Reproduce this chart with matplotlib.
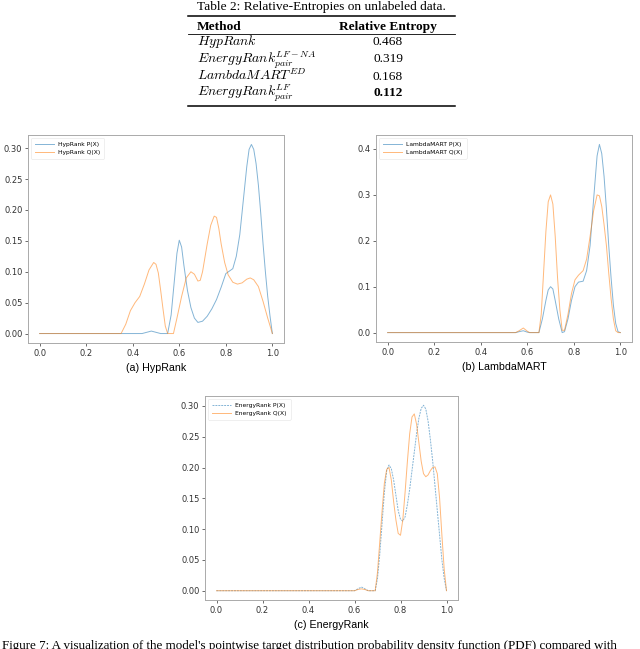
import matplotlib
matplotlib.use("Agg")
import matplotlib.pyplot as plt
from matplotlib.lines import Line2D

plt.rcParams["mathtext.fontset"] = "cm"

W, H = 640, 649

# table data
methods = [r"$HypRank$", r"$EnergyRank_{pair}^{LF-NA}$", r"$LambdaMART^{ED}$", r"$EnergyRank_{pair}^{LF}$"]
entropies = ["0.468", "0.319", "0.168", "0.112"]
best_row = 3

# (a) HypRank
hyp_p_x = [0.0, 0.44, 0.46, 0.48, 0.50, 0.52, 0.55, 0.565, 0.58, 0.59, 0.60, 0.61, 0.62, 0.635, 0.65, 0.665,
           0.68, 0.70, 0.72, 0.74, 0.76, 0.78, 0.80, 0.815, 0.83, 0.845, 0.86, 0.875, 0.89, 0.90, 0.91, 0.92,
           0.93, 0.94, 0.95, 0.96, 0.97, 0.98, 0.99, 1.00]
hyp_p_y = [0.0, 0.0, 0.002, 0.004, 0.002, 0.0, 0.0, 0.03, 0.09, 0.13, 0.151, 0.14, 0.11, 0.07, 0.042, 0.025,
           0.018, 0.02, 0.028, 0.04, 0.055, 0.075, 0.097, 0.101, 0.105, 0.125, 0.16, 0.215, 0.27, 0.298, 0.306, 0.298,
           0.275, 0.24, 0.195, 0.145, 0.10, 0.06, 0.028, 0.0]
hyp_q_x = [0.0, 0.35, 0.37, 0.39, 0.41, 0.43, 0.45, 0.47, 0.49, 0.50, 0.51, 0.52, 0.53, 0.54, 0.55, 0.575,
           0.59, 0.61, 0.63, 0.65, 0.665, 0.68, 0.69, 0.70, 0.72, 0.735, 0.75, 0.76, 0.77, 0.78, 0.795, 0.81,
           0.83, 0.85, 0.87, 0.89, 0.905, 0.92, 0.94, 0.96, 0.98, 1.00]
hyp_q_y = [0.0, 0.0, 0.015, 0.037, 0.05, 0.06, 0.08, 0.103, 0.115, 0.112, 0.098, 0.07, 0.04, 0.012, 0.0, 0.0,
           0.025, 0.06, 0.09, 0.100, 0.096, 0.085, 0.086, 0.10, 0.145, 0.175, 0.19, 0.188, 0.17, 0.145, 0.115, 0.095,
           0.083, 0.080, 0.082, 0.088, 0.09, 0.087, 0.076, 0.052, 0.025, 0.0]

# (b) LambdaMART
lm_p_x = [0.0, 0.55, 0.565, 0.583, 0.60, 0.61, 0.65, 0.665, 0.68, 0.69, 0.70, 0.71, 0.72, 0.735, 0.75, 0.76,
          0.775, 0.79, 0.805, 0.82, 0.84, 0.855, 0.87, 0.885, 0.90, 0.91, 0.92, 0.93, 0.94, 0.95, 0.96, 0.97,
          0.98, 0.99, 1.00]
lm_p_y = [0.0, 0.0, 0.002, 0.004, 0.001, 0.0, 0.0, 0.03, 0.07, 0.093, 0.10, 0.095, 0.07, 0.03, 0.0, 0.002,
          0.03, 0.07, 0.10, 0.11, 0.112, 0.135, 0.19, 0.29, 0.385, 0.41, 0.39, 0.34, 0.27, 0.19, 0.12, 0.06,
          0.02, 0.002, 0.0]
lm_q_x = [0.0, 0.55, 0.565, 0.583, 0.60, 0.61, 0.65, 0.66, 0.67, 0.68, 0.69, 0.70, 0.71, 0.72, 0.73, 0.74,
          0.75, 0.76, 0.775, 0.79, 0.805, 0.82, 0.84, 0.855, 0.87, 0.885, 0.90, 0.91, 0.92, 0.93, 0.94, 0.95,
          0.96, 0.97, 0.98, 0.99, 1.00]
lm_q_y = [0.0, 0.0, 0.004, 0.010, 0.003, 0.0, 0.0, 0.04, 0.13, 0.22, 0.285, 0.30, 0.28, 0.21, 0.12, 0.05,
          0.005, 0.005, 0.04, 0.085, 0.115, 0.125, 0.135, 0.16, 0.21, 0.265, 0.30, 0.298, 0.275, 0.235, 0.19, 0.13,
          0.075, 0.03, 0.004, 0.0, 0.0]

# (c) EnergyRank
er_p_x = [0.0, 0.60, 0.615, 0.63, 0.645, 0.66, 0.69, 0.70, 0.71, 0.72, 0.73, 0.74, 0.75, 0.76, 0.77, 0.78,
          0.79, 0.80, 0.81, 0.82, 0.83, 0.84, 0.85, 0.86, 0.87, 0.88, 0.89, 0.90, 0.91, 0.92, 0.93, 0.94,
          0.95, 0.96, 0.97, 0.98, 0.99, 1.00]
er_p_y = [0.0, 0.0, 0.003, 0.006, 0.003, 0.0, 0.0, 0.02, 0.06, 0.11, 0.16, 0.195, 0.204, 0.198, 0.18, 0.155,
          0.13, 0.116, 0.113, 0.12, 0.14, 0.165, 0.195, 0.225, 0.255, 0.28, 0.296, 0.301, 0.295, 0.275, 0.245, 0.21,
          0.17, 0.13, 0.09, 0.05, 0.02, 0.0]
er_q_x = [0.0, 0.60, 0.615, 0.63, 0.645, 0.66, 0.69, 0.70, 0.71, 0.72, 0.73, 0.74, 0.75, 0.76, 0.77, 0.78,
          0.79, 0.80, 0.81, 0.82, 0.83, 0.84, 0.85, 0.86, 0.87, 0.88, 0.89, 0.90, 0.91, 0.92, 0.93, 0.94,
          0.95, 0.96, 0.97, 0.98, 0.99, 1.00]
er_q_y = [0.0, 0.0, 0.002, 0.003, 0.002, 0.0, 0.0, 0.03, 0.08, 0.13, 0.175, 0.197, 0.20, 0.18, 0.145, 0.115,
          0.093, 0.09, 0.115, 0.16, 0.21, 0.255, 0.282, 0.287, 0.27, 0.24, 0.21, 0.19, 0.185, 0.188, 0.195, 0.20,
          0.201, 0.19, 0.15, 0.09, 0.035, 0.0]

panels = [
    ("HypRank", "(a) HypRank", hyp_p_x, hyp_p_y, hyp_q_x, hyp_q_y, (28, 135, 284, 343), [0.0, 0.05, 0.10, 0.15, 0.20, 0.25, 0.30], "{:.2f}", "-"),
    ("LambdaMART", "(b) LambdaMART", lm_p_x, lm_p_y, lm_q_x, lm_q_y, (376, 135, 632, 342), [0.0, 0.1, 0.2, 0.3, 0.4], "{:.1f}", "-"),
    ("EnergyRank", "(c) EnergyRank", er_p_x, er_p_y, er_q_x, er_q_y, (205, 396, 458, 600), [0.0, 0.05, 0.10, 0.15, 0.20, 0.25, 0.30], "{:.2f}", (0, (2, 1))),
]


def fx(px):
    return px / W


def fy(py):
    return 1 - py / H


fig = plt.figure(figsize=(6.4, 6.49), dpi=100)

serif = "Liberation Serif"
fig.text(fx(321), fy(10), "Table 2: Relative-Entropies on unlabeled data.", family=serif, fontsize=9.6,
         ha="center", va="baseline")
for py, lw in [(15.5, 1.1), (33.5, 0.6), (106, 1.1)]:
    fig.add_artist(Line2D([fx(188), fx(455)], [fy(py), fy(py)], color="black", lw=lw, transform=fig.transFigure))
fig.text(fx(197), fy(30), "Method", family=serif, fontsize=9.6, weight="bold", ha="left", va="baseline")
fig.text(fx(388), fy(30), "Relative Entropy", family=serif, fontsize=9.6, weight="bold", ha="center", va="baseline")
row_base = [45, 62, 80, 95.5]
for i, (m, v) in enumerate(zip(methods, entropies)):
    fig.text(fx(197), fy(row_base[i]), m, fontsize=9.9, ha="left", va="baseline")
    fig.text(fx(388), fy(row_base[i]), v, family=serif, fontsize=9.6, ha="center", va="baseline",
             weight="bold" if i == best_row else "normal")

for name, cap, px_, py_, qx_, qy_, box, yticks, fmt, pls in panels:
    l, t, r, b = box
    ax = fig.add_axes([fx(l), fy(b), (r - l) / W, (b - t) / H])
    ax.plot(px_, py_, color="#1f77b4", lw=0.7, alpha=0.55, ls=pls, label=f"{name} P(X)")
    ax.plot(qx_, qy_, color="#ff7f0e", lw=0.7, alpha=0.55, label=f"{name} Q(X)")
    ax.set_xticks([0.0, 0.2, 0.4, 0.6, 0.8, 1.0])
    ax.set_yticks(yticks)
    ax.set_yticklabels([fmt.format(v) for v in yticks])
    ax.tick_params(labelsize=6, length=2, width=0.5, pad=2, colors="#333333")
    for s in ax.spines.values():
        s.set_color("#aaaaaa")
        s.set_linewidth(0.7)
    leg = ax.legend(loc="upper left", fontsize=4.3, frameon=True, handlelength=3.2, borderpad=0.6,
                    labelspacing=0.5, fancybox=True)
    leg.get_frame().set_linewidth(0.4)
    leg.get_frame().set_edgecolor("#dddddd")
    cx = (l + r) / 2
    fig.text(fx(cx), fy(b + 25), cap, family="Liberation Sans", fontsize=7.7, ha="center", va="center")

fig.text(0.003, fy(640), "Figure 7: A visualization of the model's pointwise target distribution probability density "
         "function (PDF) compared with", family=serif, fontsize=9.4, ha="left", va="top")

fig.savefig("out.png", dpi=100)
